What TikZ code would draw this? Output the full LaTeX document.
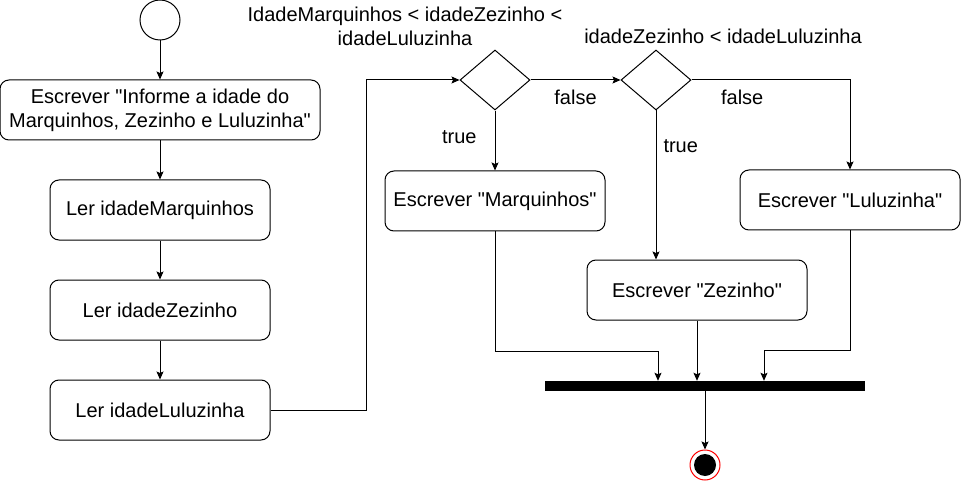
\documentclass[tikz,border=0pt]{standalone}
\usepackage{fontspec}
\setmainfont{Liberation Sans}[Ligatures=TeXOff]
\usetikzlibrary{arrows.meta,positioning,shapes.geometric}
\tikzset{
  arr/.style={-{Stealth[length=8pt,width=7pt,inset=1.5pt]},line width=1pt},
  act/.style={draw,line width=1pt,rounded corners=9pt,minimum width=220pt,minimum height=60pt,inner sep=2pt,align=center},
  cond/.style={draw,line width=1pt,diamond,aspect=1.1667,minimum width=70pt,minimum height=60pt,inner sep=0pt},
  lab/.style={inner sep=0pt,align=center},
  ini/.style={draw,line width=1pt,circle,minimum size=40pt,inner sep=0pt},
  fin/.style={draw=red,line width=1pt,circle,fill=white,minimum size=30pt,inner sep=0pt,
    path picture={\fill[black] (path picture bounding box.center) circle (11pt);}},
  syncbar/.style={fill=black,minimum width=320pt,minimum height=10pt,inner sep=0pt}
}

\begin{document}
\begin{tikzpicture}[x=1pt,y=-1pt,node distance=39pt,font=\fontsize{20}{24}\selectfont]
  \useasboundingbox (0,0) rectangle (961,481);
  % left column
  \node[ini] (start) at (160,20) {};
  \node[act,minimum width=320pt,below=of start] (ask) {Escrever "Informe a idade do\\Marquinhos, Zezinho e Luluzinha"};
  \node[act,below=of ask] (lm) {Ler idadeMarquinhos};
  \node[act,below=of lm] (lz) {Ler idadeZezinho};
  \node[act,below=of lz] (ll) {Ler idadeLuluzinha};
  % decisions
  \node[cond] (c1) at (495,80) {};
  \node[cond,right=90pt of c1] (c2) {};
  \node[lab] (q1) at (405,26) {IdadeMarquinhos < idadeZezinho <\\idadeLuluzinha};
  \node[lab] (q2) at (723,36) {idadeZezinho < idadeLuluzinha};
  \node[act,below=60pt of c1] (wm) {Escrever "Marquinhos"};
  \node[act] (wl) at (850,200) {Escrever "Luluzinha"};
  \node[act] (wz) at (697,290) {Escrever "Zezinho"};
  % join and end
  \node[syncbar] (join) at (705,386) {};
  \node[fin] (stop) at (705,465) {};

  \draw[arr] (start) -- (ask);
  \draw[arr] (ask) -- (lm);
  \draw[arr] (lm) -- (lz);
  \draw[arr] (lz) -- (ll);
  \draw[arr] (ll.east) -- ++(96,0) |- (c1.west);
  \draw[arr] (c1) -- node[lab,below=10pt,pos=.5]{false} (c2);
  \draw[arr] (c1) -- node[lab,left=18pt,pos=.45]{true} (wm);
  \draw[arr] (c2.south) -- node[lab,right=7pt,pos=.24]{true} (c2.south |- wz.north);
  \draw[arr] (c2.east) -| node[lab,below=10pt,pos=.16]{false} (wl.north);
  \draw[arr] (wm.south) -- ++(0,120) -| ([xshift=-47pt]join.north);
  \draw[arr] (wz.south) -- (wz.south |- join.north);
  \draw[arr] (wl.south) -- ++(0,120) -| ([xshift=59pt]join.north);
  \draw[arr] (join) -- (stop);
\end{tikzpicture}
\end{document}
